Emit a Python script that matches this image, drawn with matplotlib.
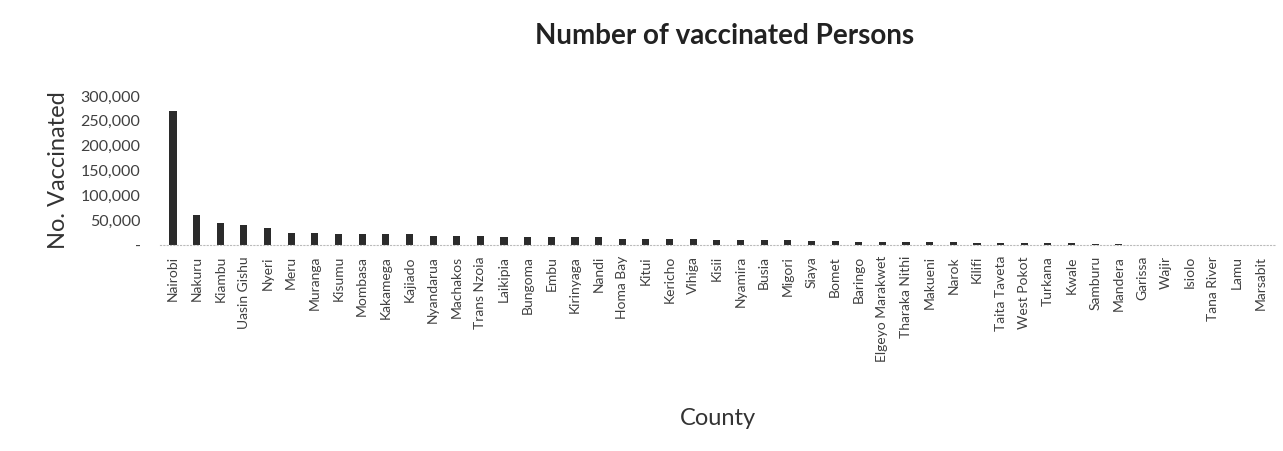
import matplotlib
matplotlib.use("Agg")
import matplotlib.pyplot as plt
from matplotlib.ticker import FuncFormatter

counties = ["Nairobi", "Nakuru", "Kiambu", "Uasin Gishu", "Nyeri", "Meru", "Muranga", "Kisumu",
            "Mombasa", "Kakamega", "Kajiado", "Nyandarua", "Machakos", "Trans Nzoia", "Laikipia",
            "Bungoma", "Embu", "Kirinyaga", "Nandi", "Homa Bay", "Kitui", "Kericho", "Vihiga",
            "Kisii", "Nyamira", "Busia", "Migori", "Siaya", "Bomet", "Baringo", "Elgeyo Marakwet",
            "Tharaka Nithi", "Makueni", "Narok", "Kilifi", "Taita Taveta", "West Pokot", "Turkana",
            "Kwale", "Samburu", "Mandera", "Garissa", "Wajir", "Isiolo", "Tana River", "Lamu",
            "Marsabit"]
vaccinated = [270000, 60000, 45000, 40000, 33500, 24500, 24000, 22000,
              22000, 21500, 21000, 18500, 18000, 17500, 16000,
              15500, 15500, 15000, 15000, 11500, 11500, 11000, 11000,
              9500, 9000, 9000, 9000, 8000, 8000, 6500, 6500,
              6000, 5000, 5500, 4800, 3800, 3600, 3400, 3200, 2200, 1200, 700, 500, 400,
              300, 200, 150]
yticks = [0, 50000, 100000, 150000, 200000, 250000, 300000]

plt.rcParams['font.family'] = ['Lato', 'DejaVu Sans']

fig = plt.figure(figsize=(12.83, 4.51), dpi=100)
ax = fig.add_axes([0.1247, 0.457, 0.869, 0.330])
x = list(range(len(counties)))
ax.bar(x, vaccinated, width=0.3, color="#2b2b2b")
ax.set_xlim(-0.55, len(counties) - 0.4)
ax.set_ylim(0, 300000)
ax.set_yticks(yticks)
ax.yaxis.set_major_formatter(FuncFormatter(lambda v, p: "-" if v == 0 else f"{int(v):,}"))
ax.set_xticks(x)
ax.set_xticklabels(counties, rotation=90, fontsize=10, color="#404040")
ax.tick_params(axis='y', labelsize=11.5, colors="#404040", length=0, pad=14)
ax.tick_params(axis='x', length=0, pad=8)
for s in ["top", "right", "left"]:
    ax.spines[s].set_visible(False)
ax.spines["bottom"].set_color("#bbbbbb")
ax.spines["bottom"].set_linestyle((0, (1, 2)))
ax.set_ylabel("No. Vaccinated", fontsize=17, color="#333333", labelpad=8)
ax.set_xlabel("County", fontsize=17, color="#333333", labelpad=33)
fig.text(0.565, 0.92, "Number of vaccinated Persons", ha="center", va="center",
         fontsize=20, fontweight="bold", color="#222222")
fig.savefig("out.png", dpi=100)
